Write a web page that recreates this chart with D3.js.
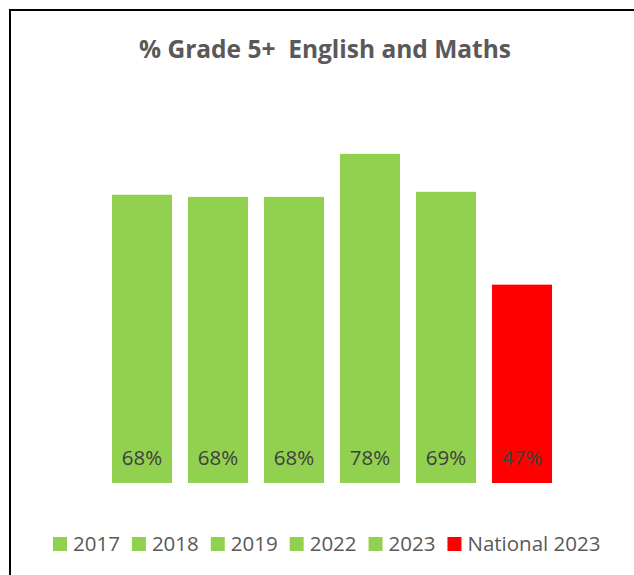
<!DOCTYPE html>
<html>
<head>
<meta charset="utf-8">
<script src="https://cdn.jsdelivr.net/npm/d3@7"></script>
<style>
  body { margin: 0; background: #fff; }
  text { font-family: "Open Sans", sans-serif; }
</style>
</head>
<body>
<div id="chart"></div>
<script>
// data
const categories = ["2017", "2018", "2019", "2022", "2023", "National 2023"];
const values = [68.3, 67.8, 67.8, 78, 69, 47]; // percent
const barColors = ["#92D050", "#92D050", "#92D050", "#92D050", "#92D050", "#FF0000"];
const yTicks = [0, 100];

const width = 634;
const height = 575;

const svg = d3.select("#chart")
    .append("svg")
    .attr("width", width)
    .attr("height", height);

// chart border (runs off the right / bottom of the picture)
svg.append("rect")
    .attr("x", 10)
    .attr("y", 10)
    .attr("width", 700)
    .attr("height", 700)
    .attr("fill", "#fff")
    .attr("stroke", "#000")
    .attr("stroke-width", 2);

// title
svg.append("text")
    .text("% Grade 5+  English and Maths")
    .attr("x", 325)
    .attr("y", 58)
    .attr("text-anchor", "middle")
    .style("white-space", "pre")
    .attr("font-size", 24.5)
    .attr("font-weight", "bold")
    .attr("fill", "#595959");

/*****************/
/* Scales        */
/*****************/
const xScale = d3.scaleBand()
    .domain(categories)
    .range([104, 560])
    .paddingInner(0.21)
    .paddingOuter(0.105);

const yScale = d3.scaleLinear()
    .domain(d3.extent(yTicks))
    .range([483, 61]);

/*****************/
/* Bars          */
/*****************/
const data = categories.map((c, i) => ({ cat: c, value: values[i], color: barColors[i] }));

svg.append("g")
    .selectAll("rect")
    .data(data)
    .join("rect")
        .attr("x", d => xScale(d.cat))
        .attr("y", d => yScale(d.value))
        .attr("width", xScale.bandwidth())
        .attr("height", d => yScale(0) - yScale(d.value))
        .attr("fill", d => d.color);

// value labels near the bottom of each bar
svg.append("g")
    .selectAll("text")
    .data(data)
    .join("text")
        .text(d => d3.format(".0f")(d.value) + "%")
        .attr("x", d => xScale(d.cat) + xScale.bandwidth() / 2)
        .attr("y", yScale(0) - 18)
        .attr("text-anchor", "middle")
        .attr("font-size", 20.5)
        .attr("fill", "#404040");

/*****************/
/* Legend        */
/*****************/
const legend = svg.append("g").attr("transform", "translate(53,537)");
let lx = 0;
data.forEach(d => {
    const item = legend.append("g").attr("transform", `translate(${lx},0)`);
    item.append("rect")
        .attr("width", 14)
        .attr("height", 14)
        .attr("fill", d.color);
    const t = item.append("text")
        .text(d.cat)
        .attr("x", 20)
        .attr("y", 14)
        .attr("font-size", 20.5)
        .attr("fill", "#595959");
    lx += 20 + t.node().getComputedTextLength() + 12;
});
</script>
</body>
</html>
